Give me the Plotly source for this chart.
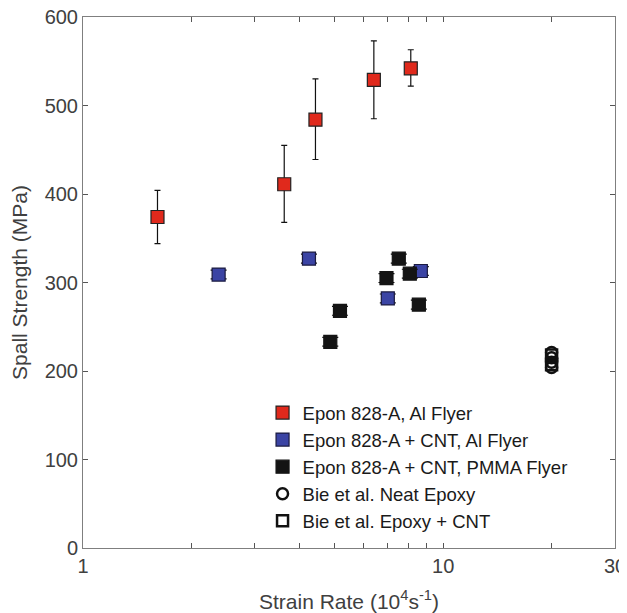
import plotly.graph_objects as go

# Epon 828-A, Al Flyer
red_x = [1.61, 3.62, 4.42, 6.42, 8.13]
red_y = [374, 411, 484, 529, 542]
red_err_plus = [30, 44, 46, 44, 21]
red_err_minus = [30, 43, 45, 44, 20]

# Epon 828-A + CNT, Al Flyer
blue_x = [2.38, 4.24, 7.02, 8.67]
blue_y = [309, 327, 282, 313]
blue_err = [5, 5, 5, 5]

# Epon 828-A + CNT, PMMA Flyer
black_x = [4.86, 5.17, 6.96, 7.53, 8.08, 8.56]
black_y = [233, 268, 305, 327, 310, 275]
black_err = [5, 5, 5, 5, 5, 5]

# Bie et al.
bie_neat_x = [20, 20, 20, 20]
bie_neat_y = [204, 210, 215, 221]
bie_cnt_x = [20, 20]
bie_cnt_y = [207, 218]

x_tickvals = [1, 2, 3, 4, 5, 6, 7, 8, 9, 10, 20, 30]
x_ticktext = ["1", "", "", "", "", "", "", "", "", "10", "", "30"]
y_tickvals = [0, 100, 200, 300, 400, 500, 600]

names = ["Epon 828-A, Al Flyer", "Epon 828-A + CNT, Al Flyer",
         "Epon 828-A + CNT, PMMA Flyer", "Bie et al. Neat Epoxy",
         "Bie et al. Epoxy + CNT"]

FONT = "Liberation Sans, Arial, sans-serif"

fig = go.Figure()

fig.add_trace(go.Scatter(
    x=red_x, y=red_y, mode="markers", name=names[0], legendgroup="a",
    marker=dict(symbol="square", size=13, color="#e0291c",
                line=dict(color="#222222", width=1.2)),
    error_y=dict(type="data", array=red_err_plus, arrayminus=red_err_minus,
                 color="#111111", thickness=1.2, width=3)))

fig.add_trace(go.Scatter(
    x=blue_x, y=blue_y, mode="markers", name=names[1], legendgroup="b",
    marker=dict(symbol="square", size=13, color="#3b44a4",
                line=dict(color="#1a1a40", width=1.2)),
    error_y=dict(type="data", array=blue_err, color="#111111",
                 thickness=1.2, width=8)))

fig.add_trace(go.Scatter(
    x=black_x, y=black_y, mode="markers", name=names[2], legendgroup="c",
    marker=dict(symbol="square", size=13, color="#141414",
                line=dict(color="#141414", width=1.2)),
    error_y=dict(type="data", array=black_err, color="#111111",
                 thickness=1.2, width=8)))

fig.add_trace(go.Scatter(
    x=bie_neat_x, y=bie_neat_y, mode="markers", name=names[3], legendgroup="d",
    marker=dict(symbol="circle-open", size=11, color="#111111",
                line=dict(color="#111111", width=2.5))))

fig.add_trace(go.Scatter(
    x=bie_cnt_x, y=bie_cnt_y, mode="markers", name=names[4], legendgroup="e",
    marker=dict(symbol="square-open", size=11, color="#111111",
                line=dict(color="#111111", width=2.5))))

axis_common = dict(
    showline=True, linecolor="#7f7f7f", linewidth=1, mirror="ticks",
    ticks="inside", ticklen=5, tickcolor="#555555", tickwidth=1,
    showgrid=False, zeroline=False, automargin=False,
    ticklabeloverflow="allow",
    tickfont=dict(family=FONT, size=20, color="#404040"),
)

fig.update_xaxes(
    type="log", range=[0, 1.4771],
    tickvals=x_tickvals, ticktext=x_ticktext,
    title=dict(text="Strain Rate (10<sup>4</sup>s<sup>-1</sup>)",
               font=dict(family=FONT, size=21, color="#404040"),
               standoff=24),
    **axis_common)

fig.update_yaxes(
    range=[0, 600], tickvals=y_tickvals,
    title=dict(text="Spall Strength (MPa)",
               font=dict(family=FONT, size=21, color="#404040"),
               standoff=19),
    **axis_common)

fig.update_layout(
    width=619, height=605,
    margin=dict(l=75, r=12, t=9, b=65),
    plot_bgcolor="white", paper_bgcolor="white",
    showlegend=True,
    legend=dict(x=0.3375, y=0.29, xanchor="left", yanchor="top",
                bgcolor="rgba(0,0,0,0)", tracegroupgap=0,
                font=dict(family=FONT, size=18.5, color="#1a1a1a")),
)

fig.write_html("out.html")
